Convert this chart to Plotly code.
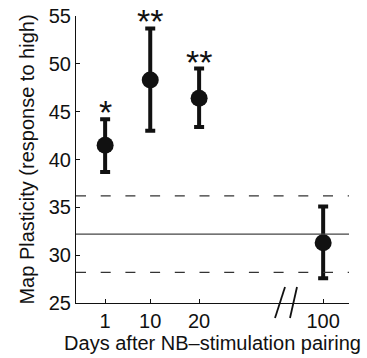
import plotly.graph_objects as go

# Data
day_labels = ["1", "10", "20", "100"]
x_pos = [1, 1.96, 3.0, 5.64]          # axis positions of the categories (broken axis)
means = [41.5, 48.3, 46.4, 31.3]
err_upper = [44.2, 53.7, 49.5, 35.1]
err_lower = [38.7, 43.0, 43.4, 27.6]
stars = ["*", "**", "**", ""]
baseline_mean = 32.2
baseline_upper = 36.2
baseline_lower = 28.2
y_ticks = [25, 30, 35, 40, 45, 50, 55]

FONT = "Liberation Sans, Arial, Helvetica, sans-serif"

plus = [u - m for u, m in zip(err_upper, means)]
minus = [m - l for m, l in zip(means, err_lower)]

fig = go.Figure()
fig.add_trace(go.Scatter(
    x=x_pos, y=means, mode="markers",
    marker=dict(color="#111111", size=17),
    error_y=dict(type="data", array=plus, arrayminus=minus, symmetric=False,
                 color="#111111", thickness=4, width=5),
    showlegend=False, hoverinfo="skip",
))

xr = [0.38, 6.19]
fig.add_shape(type="line", xref="x", yref="y", x0=xr[0], x1=xr[1],
              y0=baseline_mean, y1=baseline_mean, line=dict(color="#444444", width=1.2))
for yv in (baseline_upper, baseline_lower):
    fig.add_shape(type="line", xref="x", yref="y", x0=xr[0], x1=xr[1],
                  y0=yv, y1=yv, line=dict(color="#333333", width=1.2, dash="10px,14.7px"))

# axis break marks "//" (paper coordinates so they are not clipped)
for xb, xt in ((0.729, 0.7656), (0.7839, 0.8095)):
    fig.add_shape(type="line", xref="paper", yref="paper",
                  x0=xb, x1=xt, y0=-0.0523, y1=0.0557,
                  line=dict(color="#111111", width=1.8))

for xp, yt, s in zip(x_pos, err_upper, stars):
    if s:
        fig.add_annotation(x=xp, y=yt, text=s, showarrow=False, yanchor="bottom",
                           yshift=-14, font=dict(size=34, color="#111111", family=FONT))

fig.update_layout(
    width=367, height=358,
    margin=dict(l=76, r=18, t=16, b=55),
    paper_bgcolor="white", plot_bgcolor="white",
    font=dict(family=FONT, size=20, color="#111111"),
    xaxis=dict(range=xr, tickvals=x_pos, ticktext=day_labels, ticks="inside",
               ticklen=4, tickcolor="#111111", showgrid=False, zeroline=False,
               showline=True, linecolor="#111111", linewidth=1, automargin=False,
               title=dict(text="Days after NB\u2013stimulation pairing", standoff=4,
                          font=dict(size=20))),
    yaxis=dict(range=[25, 55], tickvals=y_ticks, ticks="inside", ticklen=4,
               tickcolor="#111111", showgrid=False, zeroline=False,
               showline=True, linecolor="#111111", linewidth=1, automargin=False,
               title=dict(text="Map Plasticity (response to high)", standoff=8,
                          font=dict(size=20))),
)

fig.write_html("out.html", config={"displayModeBar": False},
               post_script="document.body.style.margin='0';document.body.style.padding='0';")
